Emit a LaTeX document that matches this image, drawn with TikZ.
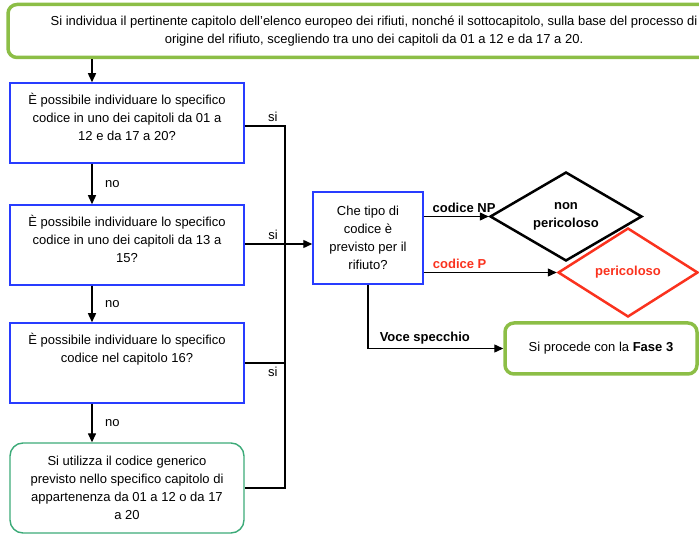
\documentclass[tikz,border=0pt]{standalone}
\usepackage{fontspec}
\setmainfont{Liberation Sans}
\usetikzlibrary{shapes,shapes.geometric,arrows,positioning,calc,arrows.meta}
\definecolor{fasegreen}{RGB}{140,190,70}
\definecolor{qblue}{RGB}{40,60,255}
\definecolor{gengreen}{RGB}{60,170,120}
\definecolor{pred}{RGB}{250,50,30}
\newcommand{\qtext}[1]{\parbox[c][60pt][t]{230pt}{\centering #1}}

\begin{document}
\begin{tikzpicture}[x=1pt,y=-1pt,
    font=\fontsize{13}{18}\selectfont,
    >={Triangle[length=9pt,width=8pt]},
    line/.style={draw=black, line width=1.4pt},
    qbox/.style={draw=qblue, line width=1.5pt, minimum width=234pt, minimum height=80pt, inner sep=0pt},
    greenbox/.style={draw=fasegreen, line width=3.5pt, rounded corners=9pt, inner sep=0pt, align=center},
    genbox/.style={draw=gengreen, line width=1.4pt, rounded corners=13pt, minimum width=234pt, minimum height=90pt, align=center, inner sep=0pt},
    esito/.style={diamond, draw, line width=2.5pt, aspect=1.7, inner sep=0pt, align=center, font=\fontsize{13}{18}\selectfont\bfseries}]
    \clip (0,0) rectangle (699,534);

    % step 0: scelta del capitolo
    \node[greenbox, minimum width=732pt, minimum height=53pt] (top) at (374,31)
        {Si individua il pertinente capitolo dell'elenco europeo dei rifiuti, nonché il sottocapitolo, sulla base del processo di\\
         origine del rifiuto, scegliendo tra uno dei capitoli da 01 a 12 e da 17 a 20.};

    % domande a sinistra
    \node[qbox] (q1) at (127,123) {\qtext{È possibile individuare lo specifico\\ codice in uno dei capitoli da 01 a\\ 12 e da 17 a 20?}};
    \node[qbox] (q2) at (127,245) {\qtext{È possibile individuare lo specifico\\ codice in uno dei capitoli da 13 a\\ 15?}};
    \node[qbox] (q3) at (127,363) {\qtext{È possibile individuare lo specifico\\ codice nel capitolo 16?}};
    \node[genbox] (gen) at (127,488) {Si utilizza il codice generico\\ previsto nello specifico capitolo di\\ appartenenza da 01 a 12 o da 17\\ a 20};

    % tipo di codice ed esiti
    \node[draw=qblue, line width=1.5pt, minimum width=110pt, minimum height=92pt, inner sep=0pt, align=center] (tipo) at (368,238)
        {Che tipo di\\ codice è\\ previsto per il\\ rifiuto?};
    \node[esito, minimum width=152pt, minimum height=89pt] (np) at (566,216.5) {non\\ pericoloso};
    \node[esito, draw=pred, text=pred, minimum width=140pt, minimum height=89pt] (p) at (628,272.5) {pericoloso};
    \node[greenbox, minimum width=192pt, minimum height=51pt] (fase) at (601,348.5) {Si procede con la \textbf{Fase 3}};

    \coordinate (axis) at (92,0);
    \coordinate (bus) at (285,0);

    % frecce verticali
    \draw[line,->] (top.south -| axis) -- (q1.north -| axis);
    \draw[line,->] (q1.south -| axis) -- (q2.north -| axis) node[midway, right=9pt] {no};
    \draw[line,->] (q2.south -| axis) -- (q3.north -| axis) node[midway, right=9pt] {no};
    \draw[line,->] (q3.south -| axis) -- (gen.north -| axis) node[midway, right=9pt] {no};

    % rami si
    \draw[line] (q1.east |- 0,126) -- (bus |- 0,126) node[pos=0.7, above] {si} -- (bus |- 0,488) -- (gen.east |- 0,488);
    \draw[line,->] (q2.east |- 0,244) -- (tipo.west |- 0,244) node[pos=0.42, above] {si};
    \draw[line] (q3.east) -- (q3.east -| bus) node[pos=0.7, below] {si};

    % uscite dal tipo di codice
    \draw[line,->] (tipo.east |- np.west) -- (np.west) node[pos=0.62, above] {\textbf{codice NP}};
    \draw[line,->] (tipo.east |- p.west) -- (p.west) node[pos=0.27, above, text=pred] {\textbf{codice P}};
    \draw[line,->] (tipo.south) -- (tipo.south |- fase.west) -- (fase.west) node[pos=0.42, above] {\textbf{Voce specchio}};
\end{tikzpicture}
\end{document}
